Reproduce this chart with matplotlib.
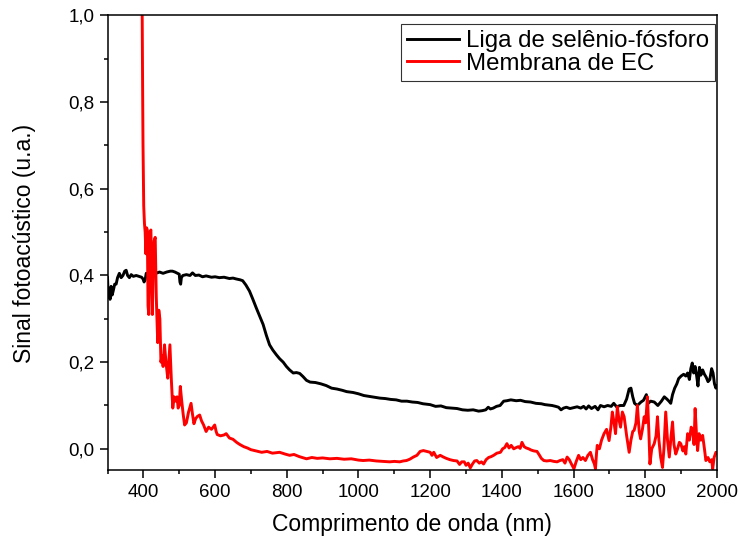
import matplotlib
matplotlib.use("Agg")
import matplotlib.pyplot as plt
from matplotlib.ticker import MultipleLocator, FuncFormatter

plt.rcParams["font.family"] = ["Liberation Sans", "DejaVu Sans"]

# black curve: selenium-phosphorus alloy
liga_x = [300, 302, 305, 307, 310, 313, 316, 320, 324, 328, 333, 338, 343, 348, 352, 356, 361, 366, 372,
          380, 388, 395, 399, 402, 405, 408, 415, 425, 435, 445, 455, 465, 475, 481, 488, 495, 500, 502,
          504, 506, 510, 520, 530, 537, 545, 555, 565, 575, 590, 600, 612, 625, 640, 650, 659, 670, 677,
          686, 696, 705, 715, 725, 734, 743, 752, 761, 771, 780, 790, 799, 808, 818, 827, 836, 845, 855,
          865, 880, 895, 910, 925, 940, 955, 967, 985, 1000, 1015, 1030, 1045, 1060, 1075, 1090, 1105,
          1120, 1135, 1150, 1165, 1180, 1200, 1215, 1230, 1245, 1260, 1275, 1290, 1305, 1320, 1335, 1345,
          1355, 1362, 1368, 1376, 1385, 1395, 1405, 1414, 1425, 1440, 1452, 1465, 1480, 1495, 1510, 1520,
          1530, 1540, 1550, 1558, 1565, 1572, 1580, 1590, 1600, 1610, 1620, 1628, 1635, 1642, 1650, 1660,
          1668, 1675, 1685, 1695, 1705, 1712, 1720, 1730, 1740, 1748, 1755, 1760, 1765, 1770, 1778, 1788,
          1795, 1803, 1808, 1815, 1825, 1835, 1845, 1853, 1860, 1866, 1871, 1876, 1882, 1888, 1893, 1900,
          1907, 1913, 1918, 1923, 1927, 1931, 1935, 1939, 1943, 1947, 1951, 1955, 1960, 1965, 1970, 1975,
          1980, 1985, 1989, 1993, 1997, 2000]
liga_y = [0.395, 0.35, 0.37, 0.345, 0.375, 0.355, 0.365, 0.38, 0.38, 0.395, 0.405, 0.395, 0.4, 0.41, 0.412,
          0.4, 0.395, 0.402, 0.398, 0.4, 0.398, 0.396, 0.392, 0.385, 0.39, 0.405, 0.402, 0.404, 0.405, 0.408,
          0.405, 0.408, 0.41, 0.41, 0.408, 0.405, 0.403, 0.385, 0.38, 0.395, 0.4, 0.402, 0.4, 0.406, 0.4,
          0.401, 0.397, 0.399, 0.396, 0.397, 0.395, 0.396, 0.393, 0.394, 0.392, 0.39, 0.388, 0.378, 0.364,
          0.346, 0.325, 0.305, 0.287, 0.262, 0.24, 0.228, 0.217, 0.208, 0.2, 0.19, 0.182, 0.175, 0.176,
          0.174, 0.167, 0.158, 0.154, 0.153, 0.15, 0.146, 0.14, 0.138, 0.135, 0.132, 0.13, 0.127, 0.123,
          0.121, 0.119, 0.117, 0.116, 0.114, 0.113, 0.11, 0.11, 0.108, 0.107, 0.104, 0.102, 0.098, 0.099,
          0.095, 0.094, 0.093, 0.09, 0.089, 0.09, 0.087, 0.088, 0.09, 0.096, 0.092, 0.094, 0.098, 0.1, 0.11,
          0.111, 0.113, 0.111, 0.112, 0.109, 0.108, 0.105, 0.104, 0.102, 0.101, 0.1, 0.098, 0.096, 0.09,
          0.094, 0.096, 0.093, 0.095, 0.097, 0.094, 0.098, 0.092, 0.099, 0.093, 0.098, 0.09, 0.1, 0.097,
          0.1, 0.098, 0.105, 0.097, 0.1, 0.1, 0.115, 0.138, 0.14, 0.12, 0.105, 0.1, 0.108, 0.112, 0.125,
          0.105, 0.11, 0.108, 0.1, 0.11, 0.12, 0.115, 0.11, 0.105, 0.125, 0.14, 0.15, 0.162, 0.168, 0.172,
          0.168, 0.175, 0.16, 0.185, 0.198, 0.175, 0.19, 0.17, 0.145, 0.188, 0.17, 0.182, 0.172, 0.165,
          0.155, 0.16, 0.185, 0.175, 0.15, 0.14, 0.145]

# red curve: EC membrane
memb_x = [396, 397, 398, 399, 400, 401, 403, 405, 407, 409, 411, 413, 415, 418, 421, 423, 425, 428, 430,
          433, 436, 440, 443, 446, 449, 452, 455, 459, 463, 468, 471, 474, 478, 482, 486, 490, 494, 497,
          500, 503, 507, 511, 515, 520, 526, 533, 537, 541, 546, 551, 557, 562, 568, 575, 582, 590, 599,
          603, 606, 615, 625, 631, 640, 650, 660, 669, 680, 690, 700, 715, 730, 745, 760, 780, 795, 808,
          820, 835, 855, 870, 885, 900, 920, 940, 960, 980, 1000, 1013, 1030, 1050, 1070, 1087, 1100, 1115,
          1125, 1134, 1143, 1153, 1163, 1172, 1181, 1190, 1200, 1205, 1210, 1218, 1228, 1237, 1245, 1255,
          1265, 1275, 1282, 1288, 1295, 1300, 1306, 1312, 1318, 1324, 1330, 1337, 1343, 1349, 1356, 1363,
          1370, 1377, 1386, 1396, 1402, 1408, 1414, 1420, 1426, 1433, 1440, 1446, 1451, 1456, 1462, 1468,
          1475, 1482, 1490, 1498, 1505, 1510, 1517, 1525, 1535, 1545, 1554, 1562, 1570, 1576, 1582, 1588,
          1594, 1601, 1607, 1614, 1620, 1626, 1633, 1640, 1647, 1653, 1658, 1661, 1664, 1666, 1672, 1678,
          1685, 1692, 1699, 1704, 1708, 1713, 1717, 1722, 1726, 1731, 1736, 1741, 1748, 1755, 1760, 1765,
          1769, 1774, 1778, 1783, 1787, 1792, 1797, 1801, 1806, 1810, 1813, 1818, 1825, 1830, 1834, 1838,
          1843, 1848, 1852, 1857, 1862, 1867, 1872, 1876, 1880, 1885, 1890, 1895, 1899, 1905, 1909, 1913,
          1918, 1923, 1928, 1932, 1936, 1939, 1943, 1946, 1950, 1955, 1960, 1965, 1969, 1975, 1980, 1985,
          1988, 1992, 1997, 2000]
memb_y = [1.1, 0.95, 0.82, 0.7, 0.62, 0.56, 0.52, 0.5, 0.45, 0.51, 0.505, 0.33, 0.31, 0.5, 0.505, 0.4,
          0.31, 0.45, 0.48, 0.488, 0.35, 0.245, 0.32, 0.3, 0.2, 0.215, 0.19, 0.24, 0.2, 0.163, 0.2, 0.24,
          0.16, 0.094, 0.12, 0.11, 0.12, 0.094, 0.1, 0.144, 0.11, 0.08, 0.055, 0.06, 0.085, 0.105, 0.08,
          0.058, 0.07, 0.075, 0.078, 0.065, 0.055, 0.04, 0.05, 0.045, 0.055, 0.04, 0.033, 0.03, 0.032,
          0.035, 0.025, 0.022, 0.015, 0.01, 0.005, 0.002, -0.002, -0.005, -0.008, -0.006, -0.01, -0.008,
          -0.012, -0.015, -0.013, -0.018, -0.023, -0.02, -0.022, -0.021, -0.023, -0.022, -0.024, -0.023,
          -0.026, -0.027, -0.026, -0.028, -0.029, -0.03, -0.029, -0.03, -0.028, -0.027, -0.024, -0.019,
          -0.015, -0.006, -0.004, -0.006, -0.008, -0.015, -0.008, -0.02, -0.015, -0.019, -0.022, -0.025,
          -0.027, -0.028, -0.036, -0.03, -0.03, -0.038, -0.033, -0.044, -0.035, -0.028, -0.027, -0.033,
          -0.03, -0.035, -0.025, -0.02, -0.018, -0.015, -0.01, -0.008, 0.0, 0.003, 0.012, 0.002, 0.008,
          0.0, 0.003, 0.005, 0.001, 0.015, 0.005, 0.002, 0.0, -0.003, -0.005, -0.006, -0.015, -0.022,
          -0.027, -0.028, -0.027, -0.029, -0.03, -0.027, -0.025, -0.033, -0.019, -0.025, -0.035, -0.046,
          -0.03, -0.015, -0.025, -0.02, -0.027, -0.015, -0.008, -0.025, -0.035, -0.046, -0.01, 0.008, 0.0,
          0.02, 0.035, 0.045, 0.019, 0.05, 0.085, 0.06, 0.035, 0.097, 0.07, 0.05, 0.085, 0.074, 0.03,
          -0.008, 0.02, 0.04, 0.043, 0.06, 0.1, 0.04, 0.023, 0.045, 0.074, 0.06, 0.12, 0.04, -0.035, 0.0,
          0.012, 0.03, 0.074, 0.02, -0.02, -0.043, 0.0, 0.085, 0.02, -0.019, 0.03, 0.062, 0.01, -0.012,
          0.0, 0.015, 0.012, -0.005, 0.005, -0.012, 0.035, 0.02, 0.05, 0.043, 0.01, 0.093, 0.03, -0.004,
          0.035, 0.02, 0.031, 0.0, -0.027, -0.02, -0.03, -0.025, -0.046, -0.02, -0.008, -0.01]

fig = plt.figure(figsize=(7.4, 5.45), dpi=100)
ax = fig.add_axes([0.1453, 0.1367, 0.8236, 0.8349])

ax.plot(liga_x, liga_y, color="k", lw=2.1, label="Liga de selênio-fósforo")
ax.plot(memb_x, memb_y, color="#ff0000", lw=2.1, label="Membrana de EC")

ax.set_xlim(300, 2000)
ax.set_ylim(-0.05, 1.0)
ax.xaxis.set_major_locator(MultipleLocator(200))
ax.xaxis.set_minor_locator(MultipleLocator(100))
ax.yaxis.set_major_locator(MultipleLocator(0.2))
ax.yaxis.set_minor_locator(MultipleLocator(0.1))
ax.yaxis.set_major_formatter(FuncFormatter(lambda v, p: f"{v:.1f}".replace(".", ",")))
ax.tick_params(which="both", direction="out", top=False, right=False, labelsize=13.5, width=1.1)
ax.tick_params(which="major", length=5.5, pad=4)
ax.tick_params(which="minor", length=2.8)
for s in ax.spines.values():
    s.set_linewidth(1.1)

ax.set_xlabel("Comprimento de onda (nm)", fontsize=16.5, labelpad=9)
ax.set_ylabel("Sinal fotoacústico (u.a.)", fontsize=16.5, labelpad=23)

leg = ax.legend(loc="upper right", bbox_to_anchor=(0.997, 0.981), fontsize=17.3,
                frameon=True, fancybox=False, edgecolor="k", handlelength=2.16,
                borderpad=0.25, labelspacing=0.02, handletextpad=0.29, borderaxespad=0)
leg.get_frame().set_linewidth(0.8)

fig.savefig("out.png", dpi=100)
